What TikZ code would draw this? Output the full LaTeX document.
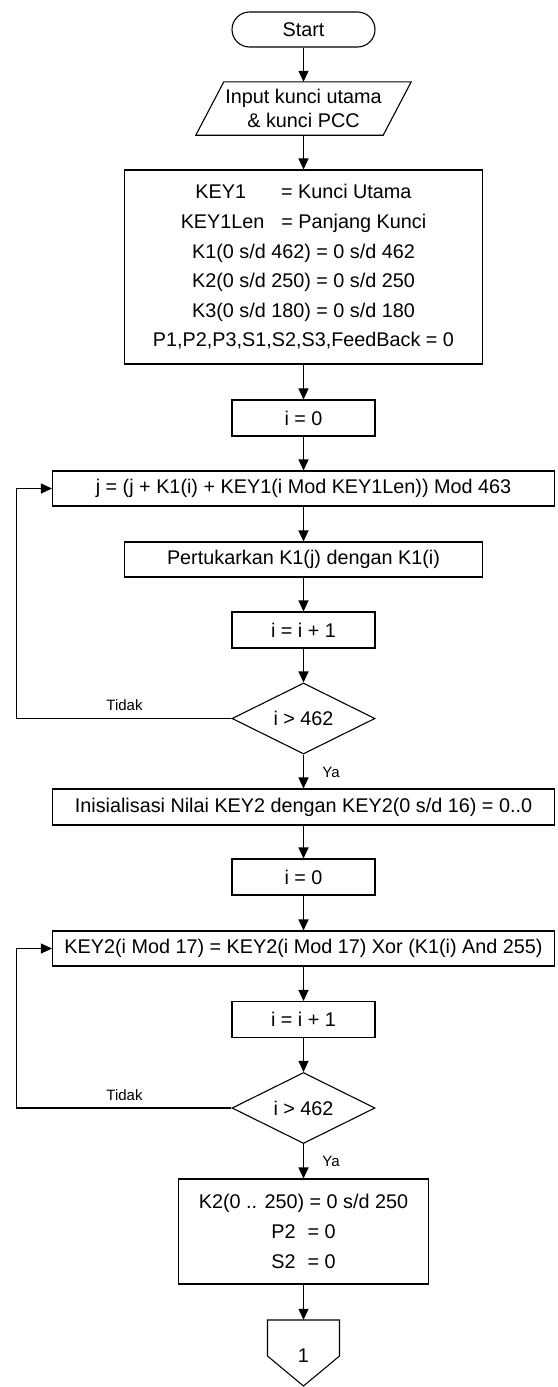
\documentclass[tikz,border=0pt]{standalone}
\usepackage{fontspec}
\setmainfont{Liberation Sans}
\usetikzlibrary{shapes.geometric,arrows.meta,calc}
\begin{document}
\begin{tikzpicture}[x=1pt,y=-1pt,
  every node/.style={font=\fontsize{19.8}{29.6}\selectfont, inner sep=0pt},
  box/.style={draw, line width=1.1pt, rectangle, align=center},
  dia/.style={draw, diamond, line width=1.1pt, minimum width=143pt, minimum height=71pt, aspect=2},
  arr/.style={line width=1.1pt, -{Triangle[length=11pt,width=10pt]}},
  thinline/.style={line width=1.1pt},
  lbl/.style={font=\fontsize{15}{18}\selectfont}]
\useasboundingbox (0,0) rectangle (557,1387);

\node[box, rounded corners=17.5pt, minimum width=143pt, minimum height=35pt] (start) at (303.5,29.5) {Start};
\node[minimum width=215pt, minimum height=53pt, align=center, font=\fontsize{19.8}{24}\selectfont] (inp) at (303.5,108.5) {Input kunci utama\\\& kunci PCC};
\draw[thinline] ([xshift=28pt]inp.north west) -- (inp.north east) -- ([xshift=-28pt]inp.south east) -- (inp.south west) -- cycle;

\node[box, minimum width=358pt, minimum height=194pt] (init) at (303.5,267) {KEY1\hspace{35pt}= Kunci Utama\\KEY1Len\hspace{17pt}= Panjang Kunci\\K1(0 s/d 462) = 0 s/d 462\\K2(0 s/d 250) = 0 s/d 250\\K3(0 s/d 180) = 0 s/d 180\\P1,P2,P3,S1,S2,S3,FeedBack = 0};

\node[box, minimum width=143pt, minimum height=36pt] (i0a) at (303.5,418) {i = 0};
\node[box, minimum width=502pt, minimum height=35pt] (jbox) at (303.5,488.5) {j = (j + K1(i) + KEY1(i Mod KEY1Len)) Mod 463};
\node[box, minimum width=358pt, minimum height=35pt] (swap) at (303.5,559.5) {Pertukarkan K1(j) dengan K1(i)};
\node[box, minimum width=143pt, minimum height=36pt] (inc1) at (303.5,630) {i = i + 1};
\node[dia] (d1) at (303.5,718.5) {i > 462};
\node[box, minimum width=502pt, minimum height=36pt] (key2init) at (303.5,807) {Inisialisasi Nilai KEY2 dengan KEY2(0 s/d 16) = 0..0};
\node[box, minimum width=143pt, minimum height=36pt] (i0b) at (303.5,877) {i = 0};
\node[box, minimum width=502pt, minimum height=35pt] (xor) at (303.5,948.5) {KEY2(i Mod 17) = KEY2(i Mod 17) Xor (K1(i) And 255)};
\node[box, minimum width=143pt, minimum height=36pt] (inc2) at (303.5,1019.5) {i = i + 1};
\node[dia] (d2) at (303.5,1108) {i > 462};
\node[box, minimum width=250pt, minimum height=105pt, font=\fontsize{19.8}{30}\selectfont] (fin) at (303.5,1231.5) {K2(0 .. 250) = 0 s/d 250\\P2\hspace{12pt}= 0\\S2\hspace{12pt}= 0};

\node[minimum width=72pt, minimum height=72pt] (conn) at (303.5,1356) {1};
\draw[thinline] ($(conn)+(-36,-36)$) -- ($(conn)+(36,-36)$) -- ($(conn)+(36,0)$) -- ($(conn)+(0,30)$) -- ($(conn)+(-36,0)$) -- cycle;

\draw[arr] (start) -- (inp);
\draw[arr] (inp) -- (init);
\draw[arr] (init) -- (i0a);
\draw[arr] (i0a) -- (jbox);
\draw[arr] (jbox) -- (swap);
\draw[arr] (swap) -- (inc1);
\draw[arr] (inc1) -- (d1);
\draw[arr] (d1) -- (key2init);
\draw[arr] (key2init) -- (i0b);
\draw[arr] (i0b) -- (xor);
\draw[arr] (xor) -- (inc2);
\draw[arr] (inc2) -- (d2);
\draw[arr] (d2) -- (fin);
\draw[arr] (fin) -- (conn.north);

\draw[arr] (d1.west) -- ++(-215,0) |- (jbox.west);
\draw[arr] (d2.west) -- ++(-215,0) |- (xor.west);

\node[lbl] (t1) at (124.5,705) {Tidak};
\node[lbl] (y1) at (331,772) {Ya};
\node[lbl] (t2) at (124.5,1095) {Tidak};
\node[lbl] (y2) at (331,1161) {Ya};
\end{tikzpicture}
\end{document}
